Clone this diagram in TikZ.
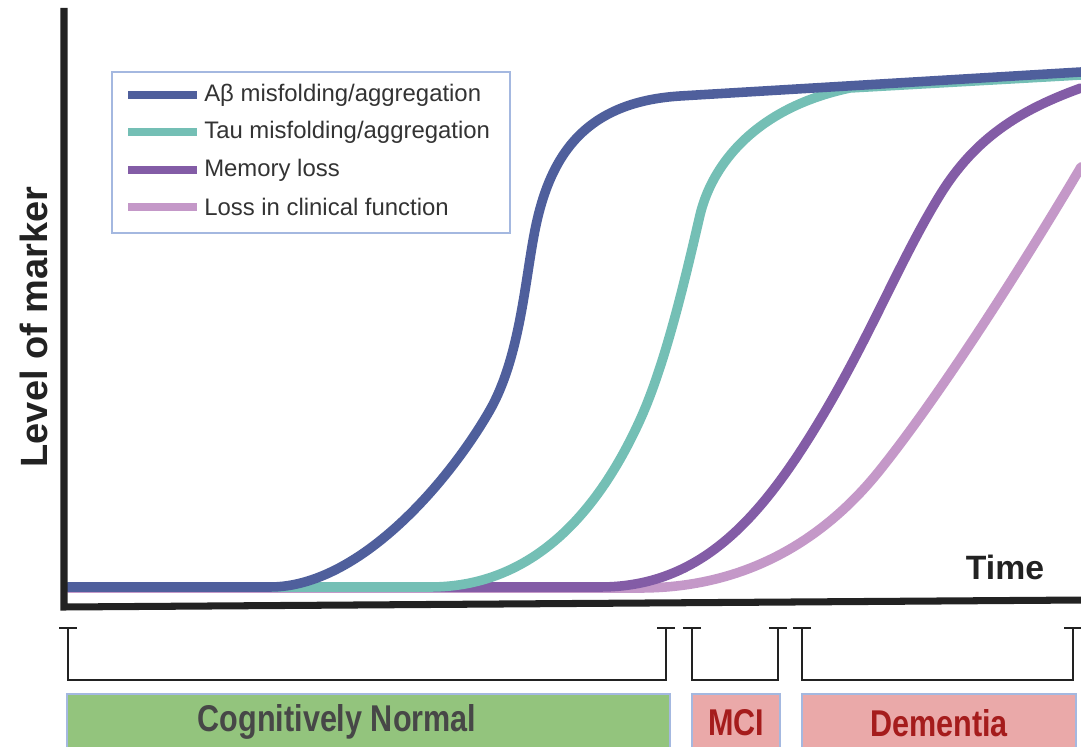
\documentclass[tikz,border=0pt]{standalone}
\usepackage{fontspec}
\setmainfont{Liberation Sans}
\newfontfamily\condfont[FakeStretch=0.82]{Liberation Sans}

\definecolor{abeta}{HTML}{4F5F9C}
\definecolor{tau}{HTML}{74BFB5}
\definecolor{memory}{HTML}{835CA6}
\definecolor{clinical}{HTML}{C498C8}
\definecolor{axisgray}{HTML}{222222}
\definecolor{boxblue}{HTML}{A4B8E0}
\definecolor{normalgreen}{HTML}{93C47D}
\definecolor{stagepink}{HTML}{EAA9A9}
\definecolor{stagered}{HTML}{A51C1C}
\definecolor{labelgray}{HTML}{474747}
\definecolor{legendgray}{HTML}{333333}

\begin{document}
\begin{tikzpicture}[x=0.025cm, y=-0.025cm]
\tikzset{curve/.style={line width=6.8pt, line cap=round, line join=round}}
\tikzset{axis/.style={line width=5pt, draw=axisgray, line join=miter}}
\tikzset{bracket/.style={line width=2pt, draw=axisgray}}
\tikzset{stagebox/.style={rectangle, draw=boxblue, line width=1pt, minimum height=1.45cm, inner sep=0pt}}
\tikzset{stagetext/.style={font=\condfont\bfseries\fontsize{26.5}{30}\selectfont}}
\tikzset{legtext/.style={anchor=west, font=\fontsize{17}{20}\selectfont, text=legendgray, inner sep=0pt}}

\useasboundingbox (0,0) rectangle (1081,747);

% marker curves, latest first
\draw[curve, clinical] (68,588) -- (640,588) .. controls (740,588) and (820,545) .. (880,470)
  .. controls (940,395) and (1020,270) .. (1081,167);
\draw[curve, memory] (68,587) -- (600,587) .. controls (700,587) and (760,520) .. (820,420)
  .. controls (870,337) and (900,260) .. (940,195) .. controls (975,138) and (1020,110) .. (1081,88);
\draw[curve, tau] (68,587) -- (430,587) .. controls (520,587) and (590,530) .. (640,420)
  .. controls (665,365) and (685,280) .. (700,215) .. controls (712,165) and (755,108) .. (850,88) -- (1081,75);
\draw[curve, abeta] (68,587) -- (270,587) .. controls (360,587) and (450,480) .. (490,410)
  .. controls (520,357) and (525,280) .. (535,230) .. controls (550,155) and (585,102) .. (680,96) -- (1081,72);

% axes
\coordinate (ytop) at (64,8);
\coordinate (origin) at (64,607);
\coordinate (xend) at (1085,600);
\draw[axis] (ytop) -- (origin) -- (xend);
\node[rotate=90, font=\bfseries\fontsize{27}{30}\selectfont, text=axisgray] (ylabel) at (34,327) {Level of marker};
\node[font=\bfseries\fontsize{24}{28}\selectfont, text=axisgray] (xlabel) at (1005,567) {Time};

% legend
\draw[draw=boxblue, line width=1pt] (112,72) rectangle (510,233);
\foreach \y/\c/\t in {95/abeta/{Aβ misfolding/aggregation}, 132/tau/{Tau misfolding/aggregation}, 170/memory/{Memory loss}, 207/clinical/{Loss in clinical function}} {
  \draw[\c, line width=5pt] (128,\y) -- (197,\y);
  \node[legtext] (leg\c) at (204,\y) {\t};
}

% stage brackets
\foreach \a/\b in {68/666, 692/778, 802/1073} {
  \draw[bracket] (\a-9,628) -- (\a+9,628) (\a,628) -- (\a,680) -- (\b,680) -- (\b,628) (\b-9,628) -- (\b+9,628);
}

% stage boxes
\node[stagebox, fill=normalgreen, minimum width=15.08cm] (normalbox) at (368.5,723) {};
\node[stagetext, text=labelgray] (normal) at (337,722) {Cognitively Normal};
\node[stagebox, fill=stagepink, minimum width=2.2cm, stagetext, text=stagered] (mci) at (736,723) {MCI};
\node[stagebox, fill=stagepink, minimum width=6.85cm, stagetext, text=stagered] (dementia) at (939,723) {Dementia};
\end{tikzpicture}
\end{document}
